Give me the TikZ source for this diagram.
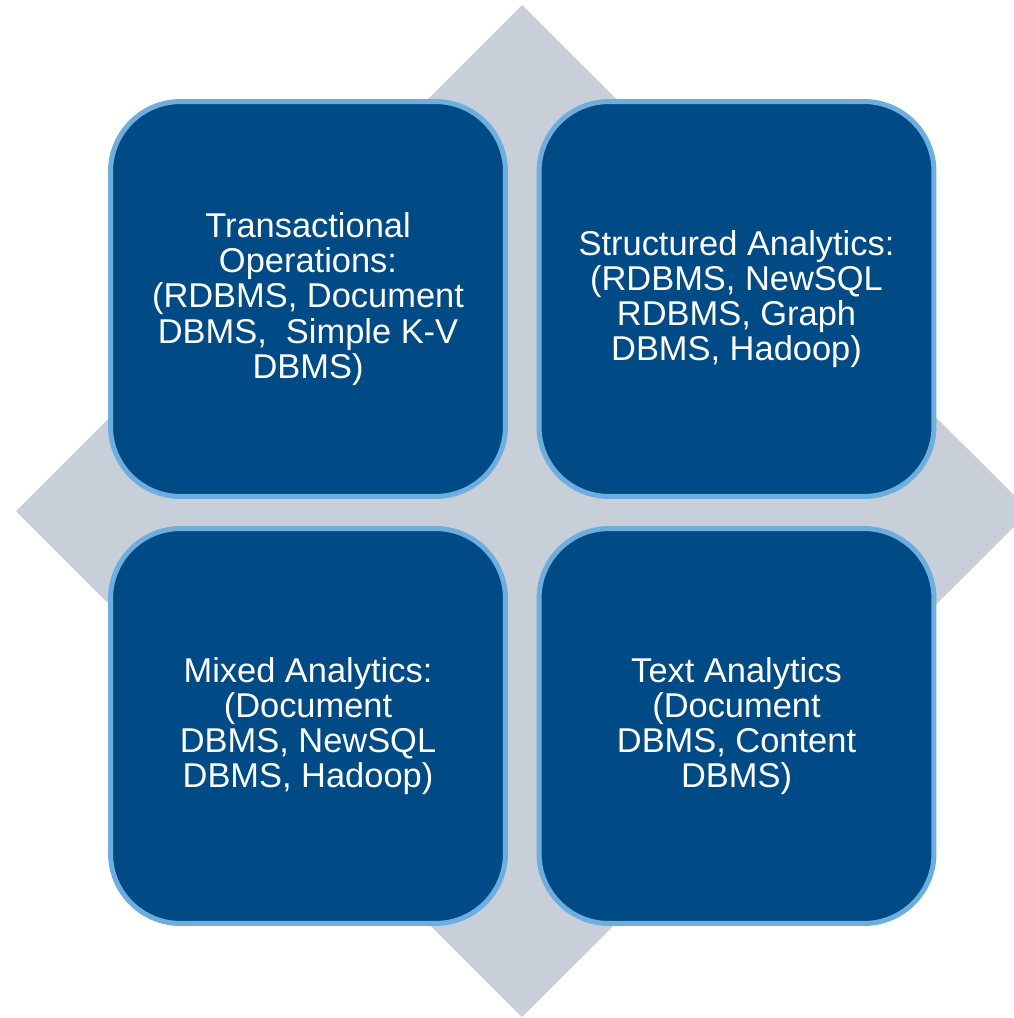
\documentclass[tikz,border=0pt]{standalone}
\usepackage{fontspec}
\setmainfont{Liberation Sans}
\definecolor{boxblue}{HTML}{004A85}
\definecolor{rimblue}{HTML}{6DAEDF}
\definecolor{diagray}{HTML}{C8CFD9}
\begin{document}
\begin{tikzpicture}[x=0.02cm,y=-0.02cm,
  quad/.style={draw=rimblue,fill=boxblue,line width=0.1cm,rounded corners=1.4cm,
    minimum width=7.9cm,minimum height=7.9cm,text=white,align=center,
    font=\fontsize{19.6}{20}\selectfont}]
\useasboundingbox (0,0) rectangle (1014,1018);
\clip (0,0) rectangle (1014,1018);
% gray diamond behind
\fill[diagray] (522,5) -- (1030,511) -- (522,1017) -- (16,511) -- cycle;
% the four quadrants
\node[quad] (trans) at (308,299) {Transactional\\Operations:\\(RDBMS, Document\\DBMS,~~Simple K-V\\DBMS)};
\node[quad] (struct) at (736.5,299) {Structured Analytics:\\(RDBMS, NewSQL\\RDBMS, Graph\\DBMS, Hadoop)};
\node[quad] (mixed) at (308,726) {Mixed Analytics:\\(Document\\DBMS, NewSQL\\DBMS, Hadoop)};
\node[quad] (textan) at (736.5,726) {Text Analytics\\(Document\\DBMS, Content\\DBMS)};
\end{tikzpicture}
\end{document}
